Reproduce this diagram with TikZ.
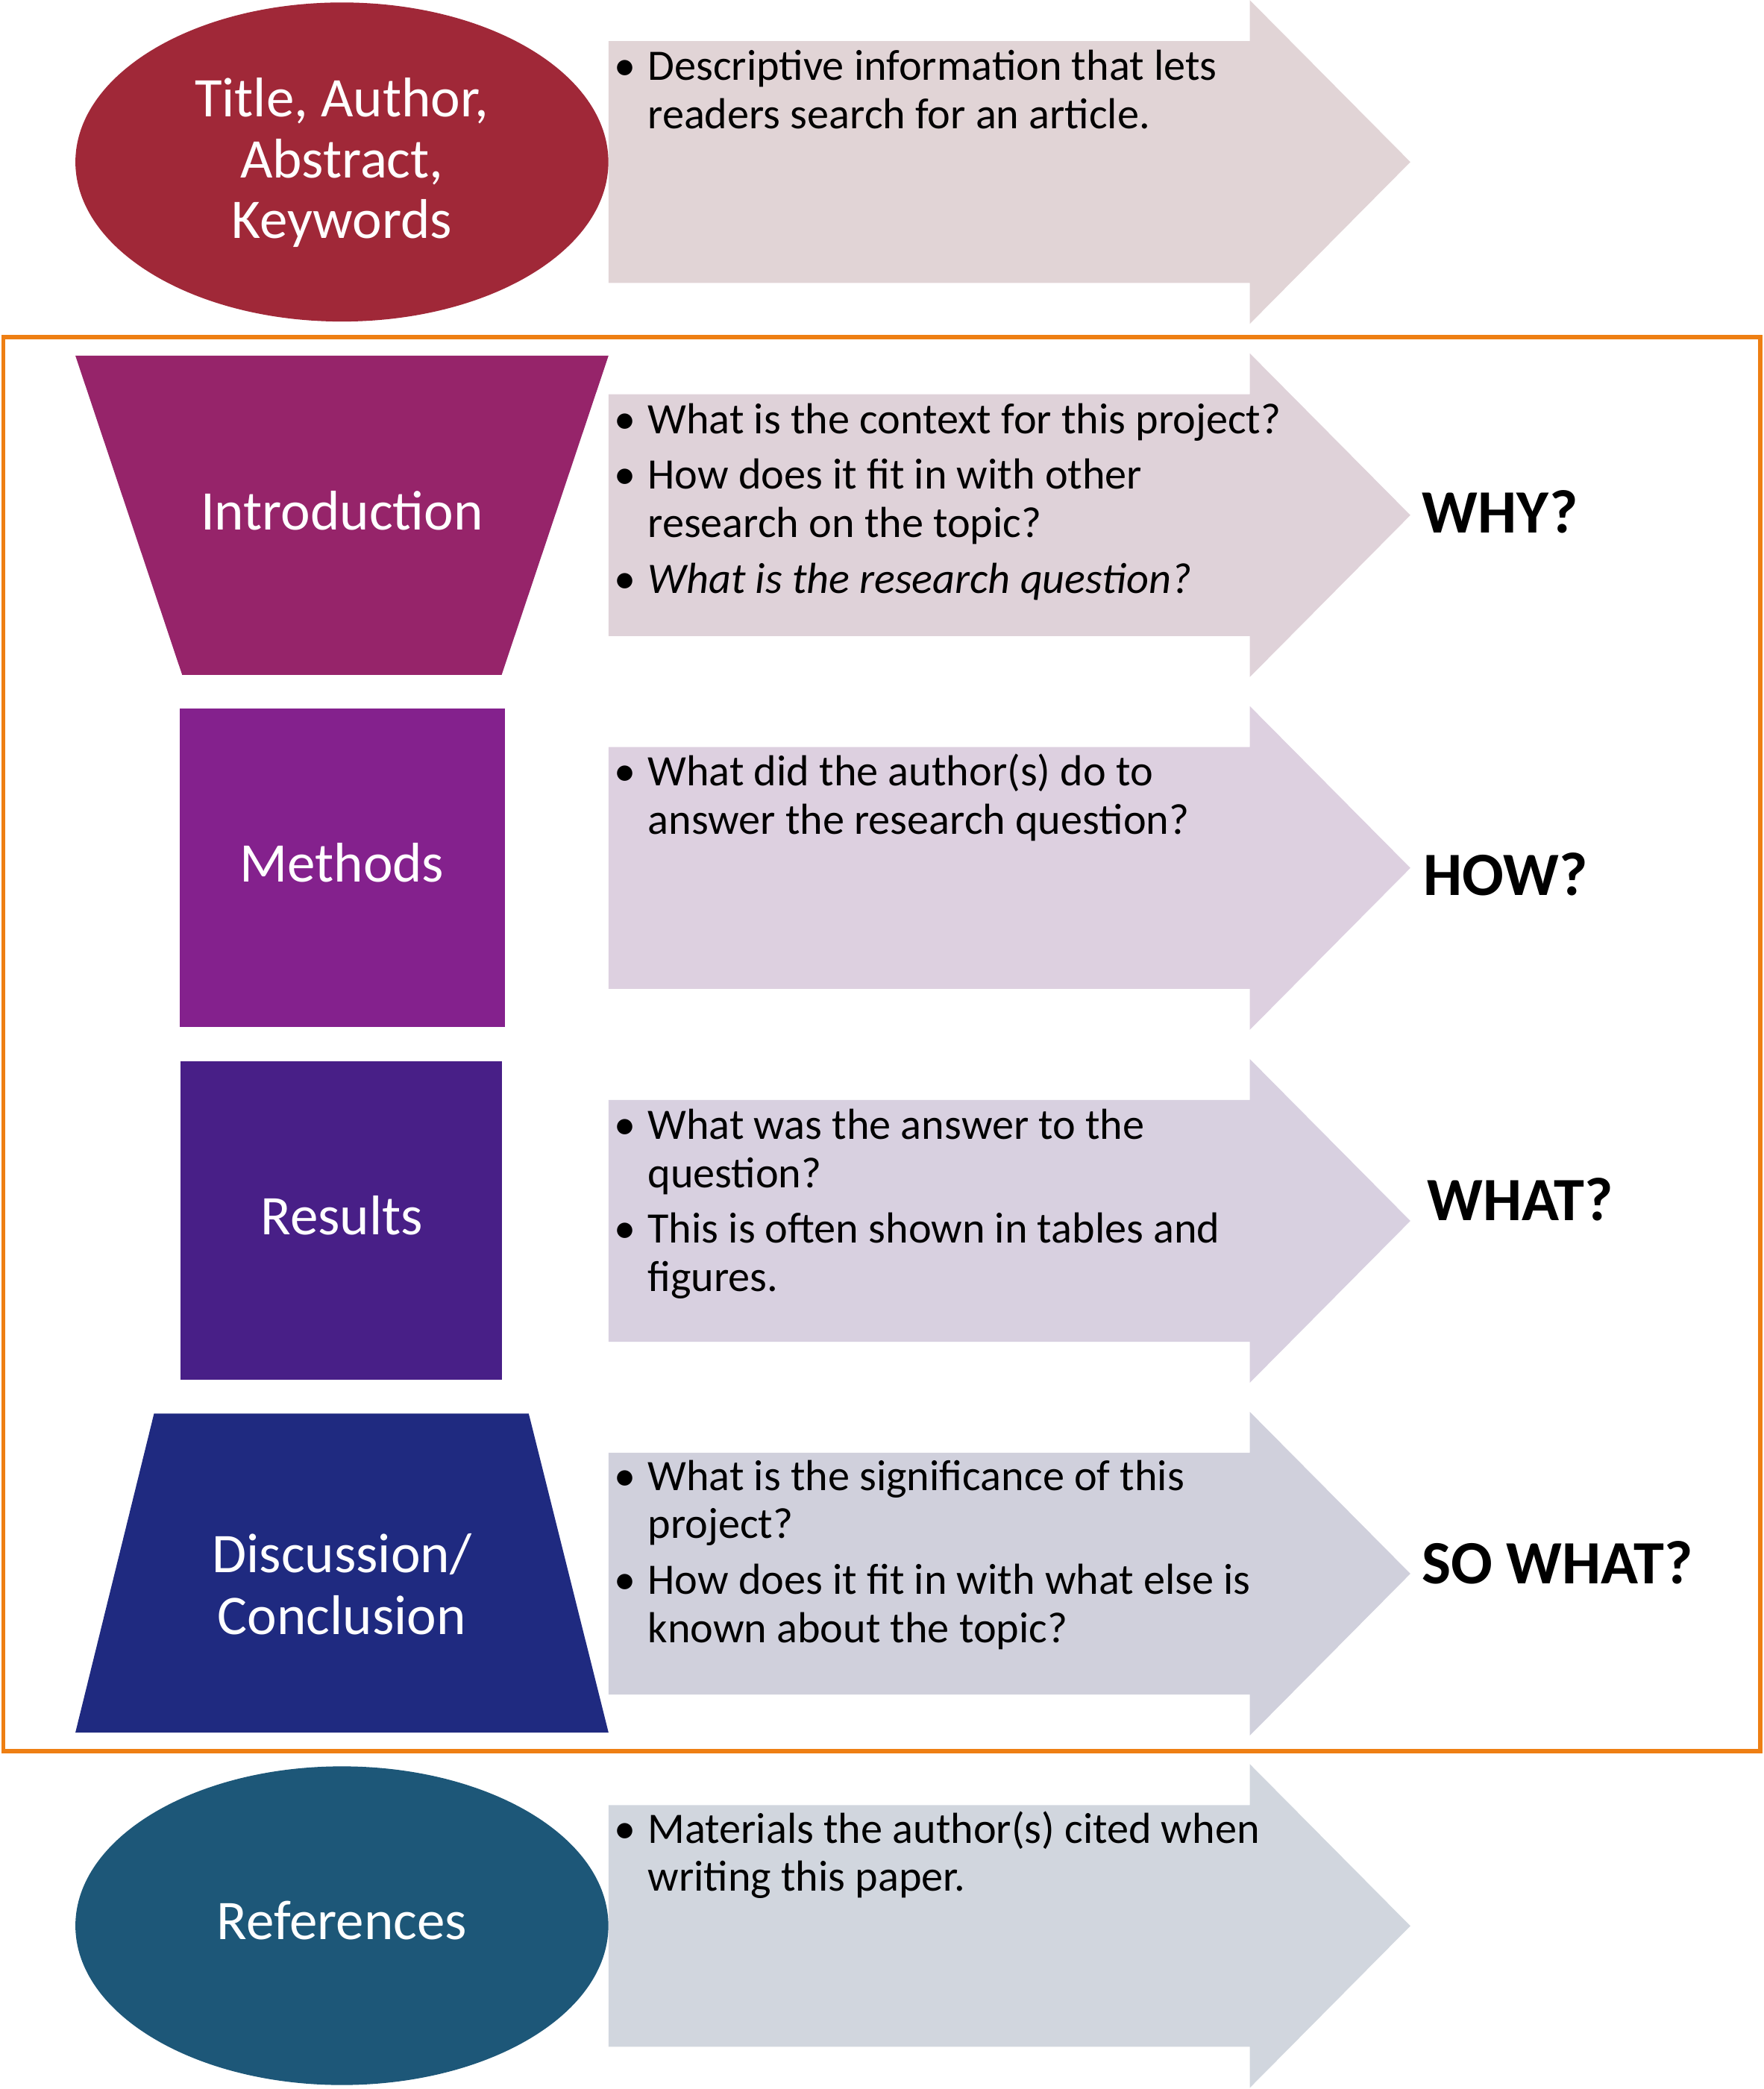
\documentclass[tikz,border=0pt]{standalone}
\usepackage{fontspec}
\setmainfont{Carlito}
\usetikzlibrary{shapes.geometric}
\definecolor{cTitle}{HTML}{A02838}
\definecolor{cIntro}{HTML}{96246A}
\definecolor{cMeth}{HTML}{84218D}
\definecolor{cRes}{HTML}{481F87}
\definecolor{cDisc}{HTML}{1F2A80}
\definecolor{cRef}{HTML}{1D5778}
\definecolor{aTitle}{HTML}{E1D4D6}
\definecolor{aIntro}{HTML}{DFD2D9}
\definecolor{aMeth}{HTML}{DDD0E0}
\definecolor{aRes}{HTML}{D8D0E0}
\definecolor{aDisc}{HTML}{D0D0DC}
\definecolor{aRef}{HTML}{D1D6DE}
\definecolor{cOrange}{HTML}{EE7F13}
\newcommand{\bulitem}[1]{\par\hangindent=25pt\hangafter=1\noindent\makebox[25pt][l]{\textbullet}#1}
\newcommand{\bultext}[1]{\parbox[t]{600pt}{\fontsize{32.6}{36.3}\selectfont\raggedright\parskip=5.5pt\relax #1}}
\newcommand{\rowarrow}[2]{%
  \fill[#1] (456.7,#2-90.75) -- (938,#2-90.75) -- (938,#2-121.5) -- (1058.5,#2) --
    (938,#2+121.5) -- (938,#2+90.75) -- (456.7,#2+90.75) -- cycle;}
\tikzset{
  shapelabel/.style={text=white, inner sep=0pt, font=\fontsize{42}{45.6}\selectfont},
  bultxt/.style={anchor=base west, inner sep=0pt, text=black},
  qlabel/.style={anchor=base west, inner sep=0pt, text=black, font=\fontsize{46.2}{54}\selectfont\bfseries},
}
\begin{document}
\begin{tikzpicture}[x=1pt,y=-1pt]
\useasboundingbox (0,0) rectangle (1323.4,1568);
% arrows
\rowarrow{aTitle}{121.6}
\rowarrow{aIntro}{386.7}
\rowarrow{aMeth}{651.5}
\rowarrow{aRes}{916.4}
\rowarrow{aDisc}{1181.2}
\rowarrow{aRef}{1445.6}
% orange frame
\draw[cOrange, line width=3.2pt] (2.5,253) rectangle (1321,1314.5);
% left shapes
\node[ellipse, fill=cTitle, minimum width=400pt, minimum height=239.5pt, inner sep=0pt] (titleshape) at (256.6,121.6) {};
\fill[cIntro] (56.6,267) -- (456.7,267) -- (376.5,506.5) -- (136.7,506.5) -- cycle;
\node[rectangle, fill=cMeth, minimum width=244pt, minimum height=239.3pt, inner sep=0pt] (methshape) at (257,651.4) {};
\node[rectangle, fill=cRes, minimum width=241pt, minimum height=239.4pt, inner sep=0pt] (resshape) at (256,916.1) {};
\fill[cDisc] (115.6,1061) -- (396.8,1061) -- (456.7,1300.4) -- (56.6,1300.4) -- cycle;
\node[ellipse, fill=cRef, minimum width=400pt, minimum height=239.2pt, inner sep=0pt] (refshape) at (256.6,1445.4) {};
% shape labels
\node[shapelabel, anchor=base] (titlelbl) at (256.6,87.8) {\parbox[t]{320pt}{\centering\fontsize{42}{45.6}\selectfont Title, Author,\\Abstract,\\Keywords}};
\node[shapelabel, anchor=base] (introlbl) at (256.6,397.5) {Introduction};
\node[shapelabel, anchor=base] (methlbl) at (256.6,662) {Methods};
\node[shapelabel, anchor=base] (reslbl) at (256.6,927) {Results};
\node[shapelabel, anchor=base] (disclbl) at (256.6,1180.6) {\parbox[t]{320pt}{\centering\fontsize{42}{46.4}\selectfont Discussion/\\Conclusion}};
\node[shapelabel, anchor=base] (reflbl) at (256.6,1456) {References};
% bullet texts
\node[bultxt] (titletxt) at (461,60.3) {\bultext{\bulitem{Descriptive information that lets\newline readers search for an article.}}};
\node[bultxt] (introtxt) at (461,325.4) {\bultext{\bulitem{What is the context for this project?}\bulitem{How does it fit in with other\newline research on the topic?}\bulitem{\itshape What is the research question?}}};
\node[bultxt] (methtxt) at (461,590) {\bultext{\bulitem{What did the author(s) do to\newline answer the research question?}}};
\node[bultxt] (restxt) at (461,855) {\bultext{\bulitem{What was the answer to the\newline question?}\bulitem{This is often shown in tables and\newline figures.}}};
\node[bultxt] (disctxt) at (461,1118.5) {\bultext{\bulitem{What is the significance of this\newline project?}\bulitem{How does it fit in with what else is\newline known about the topic?}}};
\node[bultxt] (reftxt) at (461,1383.3) {\bultext{\bulitem{Materials the author(s) cited when\newline writing this paper.}}};
% question labels
\node[qlabel] (why) at (1067,400) {WHY?};
\node[qlabel] (how) at (1068,672) {HOW?};
\node[qlabel] (what) at (1071,916) {WHAT?};
\node[qlabel] (sowhat) at (1067,1189) {SO WHAT?};
\end{tikzpicture}
\end{document}
